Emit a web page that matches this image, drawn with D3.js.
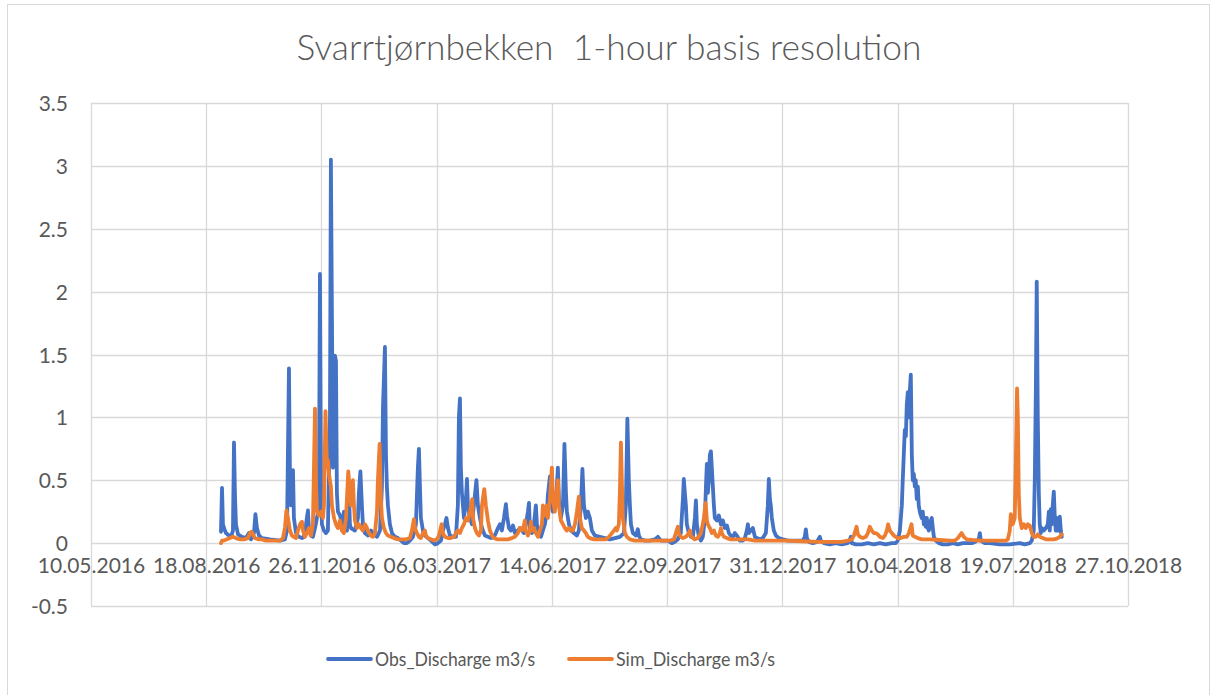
<!DOCTYPE html>
<html>
<head>
<meta charset="utf-8">
<script src="https://cdn.jsdelivr.net/npm/d3@7"></script>
<style>
  html, body { margin: 0; padding: 0; background: #fff; }
  svg { display: block; }
  text { font-family: Lato, "Open Sans", "Noto Sans", sans-serif; fill: #595959; }
</style>
</head>
<body>
<svg id="chart" width="1211" height="695"></svg>
<script>
// Svarrtjørnbekken discharge, observed vs simulated (m3/s)
const chartTitle = "Svarrtjørnbekken  1-hour basis resolution";
const recordStart = "10.05.2016";          // day 0 of the day columns below
const xTickLabels = ["10.05.2016", "18.08.2016", "26.11.2016", "06.03.2017", "14.06.2017",
                     "22.09.2017", "31.12.2017", "10.04.2018", "19.07.2018", "27.10.2018"];
const yTickValues = [-0.5, 0, 0.5, 1, 1.5, 2, 2.5, 3, 3.5];
const seriesNames = ["Obs_Discharge m3/s", "Sim_Discharge m3/s"];

// Observed discharge: days since record start, value
const obsDay = [112.8,113.7,114.5,115.4,117.1,119.7,121.5,123.2,124.1,124.9,125.8,127.6,131.0,134.5,137.1,138.8,141.4,142.7,144.0,145.8,148.4,155.3,164.0,168.3,170.1,171.8,172.7,173.5,175.3,176.1,177.9,180.5,183.1,184.8,186.6,188.3,189.2,190.9,192.6,194.4,196.1,197.8,198.7,199.6,200.4,202.2,203.9,205.6,207.4,208.2,209.1,210.0,211.7,212.6,213.4,214.3,216.1,217.8,219.5,220.4,222.1,223.9,224.7,225.6,229.1,231.7,232.5,233.8,235.1,236.0,237.7,240.4,243.0,245.6,248.2,250.8,252.5,253.4,255.1,256.0,256.8,257.7,259.4,261.2,263.8,266.4,269.0,271.6,274.2,276.8,279.4,282.0,283.7,284.6,285.5,286.3,288.1,289.8,292.4,295.0,298.5,301.1,303.7,305.4,307.2,308.5,309.8,311.5,314.1,316.7,318.4,319.3,320.2,321.0,321.9,323.7,325.4,326.3,327.1,328.9,330.6,332.3,334.5,335.8,337.5,339.3,341.9,344.5,347.1,349.7,351.4,353.2,354.9,356.6,358.4,360.1,361.0,362.7,364.4,366.2,367.9,370.5,372.2,374.0,375.7,377.4,379.2,380.1,380.9,382.7,384.4,386.1,387.0,388.7,390.5,392.2,393.9,395.7,396.5,398.3,399.1,400.9,402.6,404.3,405.2,406.1,407.8,409.6,410.9,412.2,413.0,414.8,416.5,419.1,421.7,423.4,425.2,426.5,427.8,429.5,431.2,433.0,434.7,437.3,441.7,446.0,450.3,454.7,459.0,462.5,464.2,465.5,466.8,467.7,468.6,470.3,472.9,474.6,475.5,477.2,480.7,485.0,489.4,492.0,494.6,497.2,500.7,504.1,506.7,509.3,511.9,513.7,514.5,515.4,516.3,517.1,518.9,520.6,522.4,524.1,525.0,525.8,527.6,529.3,531.0,532.8,533.7,534.5,535.4,536.2,537.1,538.0,538.8,539.7,540.6,541.4,543.2,544.9,546.7,548.4,550.1,551.9,553.6,555.3,557.1,558.8,560.5,563.1,565.7,567.5,569.2,570.1,570.9,572.7,574.4,576.2,577.9,580.5,583.1,585.7,587.4,588.3,589.2,590.0,590.9,592.6,594.4,597.0,600.4,604.8,609.1,613.5,617.8,619.5,620.4,621.3,623.0,626.5,630.0,632.6,633.4,636.0,641.2,646.4,651.6,656.8,658.6,659.5,660.3,663.8,669.0,674.2,679.4,684.6,689.8,695.0,698.5,700.2,702.0,703.7,704.5,705.4,706.3,707.2,708.0,708.9,709.8,710.6,711.5,712.4,713.2,714.1,715.0,715.8,716.7,717.6,718.4,719.3,720.2,721.0,721.9,722.8,723.7,724.5,725.4,726.3,727.1,728.0,728.9,729.7,730.6,731.5,733.2,735.8,739.3,743.6,748.0,752.3,756.7,761.0,764.4,767.1,770.5,771.4,772.3,775.7,780.1,788.7,797.4,806.1,810.4,814.8,816.5,818.2,819.1,820.0,820.8,821.7,822.6,823.4,824.3,825.2,826.9,828.7,830.4,831.3,832.1,833.0,833.9,834.7,835.6,836.5,837.3,838.2,839.1,839.9,840.8,841.7,842.5];
const obsQ = [0.09,0.44,0.15,0.12,0.08,0.06,0.05,0.10,0.80,0.40,0.15,0.07,0.05,0.04,0.08,0.03,0.08,0.23,0.12,0.06,0.04,0.03,0.02,0.03,0.10,1.39,0.50,0.30,0.58,0.20,0.08,0.05,0.04,0.05,0.15,0.26,0.10,0.06,0.05,0.12,0.20,0.30,2.14,0.50,0.15,0.10,0.08,0.10,1.00,3.05,1.80,0.60,1.49,1.45,0.40,0.25,0.22,0.15,0.25,0.12,0.10,0.40,0.15,0.12,0.10,0.20,0.40,0.57,0.30,0.15,0.08,0.06,0.10,0.07,0.05,0.10,0.45,1.08,1.56,0.70,0.45,0.30,0.15,0.08,0.05,0.04,0.02,0.00,0.00,0.02,0.05,0.15,0.60,0.75,0.45,0.20,0.10,0.06,0.04,0.02,-0.01,0.00,0.02,0.10,0.15,0.20,0.12,0.06,0.05,0.05,0.30,1.00,1.15,0.60,0.40,0.20,0.35,0.51,0.30,0.20,0.15,0.30,0.50,0.30,0.20,0.12,0.06,0.05,0.04,0.05,0.08,0.12,0.15,0.10,0.20,0.31,0.22,0.12,0.10,0.14,0.08,0.10,0.12,0.10,0.08,0.15,0.25,0.32,0.12,0.08,0.15,0.30,0.15,0.07,0.05,0.10,0.15,0.25,0.38,0.53,0.35,0.25,0.30,0.45,0.60,0.35,0.20,0.30,0.79,0.40,0.25,0.15,0.10,0.08,0.06,0.10,0.30,0.59,0.30,0.20,0.25,0.20,0.10,0.06,0.05,0.04,0.03,0.04,0.05,0.08,0.30,0.99,0.50,0.30,0.15,0.08,0.06,0.11,0.06,0.03,0.02,0.02,0.03,0.05,0.02,0.02,0.02,0.00,0.01,0.03,0.08,0.35,0.51,0.40,0.30,0.15,0.08,0.05,0.05,0.20,0.34,0.15,0.05,0.02,0.05,0.20,0.45,0.63,0.40,0.50,0.70,0.73,0.60,0.45,0.30,0.20,0.18,0.22,0.15,0.18,0.12,0.14,0.08,0.06,0.05,0.08,0.06,0.02,0.02,0.04,0.10,0.15,0.08,0.10,0.12,0.05,0.04,0.03,0.04,0.08,0.30,0.51,0.35,0.30,0.20,0.10,0.06,0.04,0.03,0.02,0.02,0.02,0.02,0.05,0.11,0.04,0.01,0.00,0.01,0.05,0.02,0.00,-0.01,0.00,-0.01,0.00,0.03,0.05,0.00,-0.01,-0.01,0.00,-0.01,0.00,-0.01,0.00,0.00,0.02,0.10,0.30,0.50,0.70,0.90,0.85,1.10,1.20,1.00,1.20,1.34,0.70,0.50,0.55,0.45,0.50,0.35,0.45,0.30,0.25,0.22,0.20,0.25,0.15,0.20,0.13,0.20,0.12,0.10,0.12,0.18,0.20,0.12,0.05,0.02,0.00,-0.01,-0.01,0.00,-0.01,0.00,0.00,0.00,0.01,0.03,0.08,0.02,0.00,0.00,-0.01,-0.01,0.00,-0.01,0.00,0.02,0.10,0.50,1.20,2.08,1.00,0.40,0.15,0.08,0.12,0.10,0.12,0.15,0.25,0.10,0.27,0.15,0.30,0.41,0.20,0.10,0.20,0.10,0.15,0.21,0.10,0.05];

// Simulated discharge: days since record start, value
const simDay = [112.8,113.7,115.4,118.0,120.6,123.2,125.8,129.3,132.8,136.2,138.0,139.3,140.6,142.3,144.9,148.4,151.8,155.3,159.7,164.0,166.6,168.3,169.6,170.9,172.7,174.4,176.1,177.9,179.6,181.4,183.1,184.0,185.7,187.4,189.2,190.9,192.6,193.5,194.4,195.2,196.1,197.8,199.6,201.3,202.2,203.5,204.8,205.6,206.5,208.2,209.1,210.9,212.6,214.3,216.1,217.8,219.5,221.3,222.1,223.3,224.7,225.6,227.3,228.2,229.1,230.8,232.5,234.3,236.0,237.7,239.5,241.2,243.0,244.7,246.4,248.2,249.0,250.5,251.6,252.5,254.2,256.0,257.7,260.3,262.9,266.4,269.9,273.3,276.8,278.5,280.3,281.1,282.9,284.6,286.3,288.1,289.8,290.7,292.4,295.0,297.6,300.2,302.0,304.3,305.4,307.2,309.8,312.4,315.0,316.7,318.4,320.2,321.9,323.7,325.4,327.1,328.9,330.9,331.5,333.2,334.9,336.7,338.4,339.3,341.3,342.7,344.5,346.2,348.0,349.7,352.3,354.9,358.4,361.8,365.3,367.9,370.5,372.2,374.0,375.7,376.6,377.4,379.2,380.9,381.8,382.7,384.4,386.1,387.9,389.6,391.3,392.2,393.9,395.7,396.5,398.3,400.0,400.9,402.6,403.5,405.2,406.1,407.8,409.6,411.3,413.0,414.8,416.5,418.2,420.0,421.7,423.4,424.3,426.0,427.8,429.5,431.2,433.0,436.5,439.9,443.4,446.9,449.5,452.1,453.8,455.5,456.4,458.1,459.0,459.9,460.7,461.6,463.4,465.1,467.7,472.0,476.4,485.0,493.7,502.4,505.9,507.6,509.3,510.2,511.9,513.7,516.3,518.9,519.8,520.6,522.4,524.1,526.7,529.3,531.0,531.9,533.4,534.5,535.4,537.1,538.8,540.6,542.3,544.1,545.8,546.7,547.5,549.3,551.9,555.3,559.7,564.9,570.1,576.2,589.2,603.1,617.0,630.8,644.7,651.6,656.8,660.3,662.1,664.4,665.6,667.3,669.9,672.5,674.2,675.9,677.7,679.4,681.1,682.9,684.6,687.2,689.0,690.7,691.8,693.3,695.0,696.8,698.5,700.2,702.8,705.4,708.0,709.8,712.1,713.2,715.0,717.6,721.0,728.0,736.7,745.4,749.7,752.3,755.5,757.5,760.1,764.4,771.4,780.1,788.7,793.9,795.7,797.4,798.3,800.0,801.7,802.6,803.7,804.4,805.2,806.1,807.8,809.6,811.3,813.0,814.8,816.5,818.2,820.0,821.7,823.4,826.0,828.7,832.1,835.6,838.2,840.8,842.5];
const simQ = [0.00,0.02,0.02,0.03,0.04,0.05,0.04,0.03,0.03,0.04,0.08,0.09,0.07,0.04,0.03,0.03,0.02,0.02,0.02,0.02,0.04,0.12,0.26,0.20,0.10,0.06,0.05,0.04,0.10,0.15,0.17,0.10,0.05,0.08,0.12,0.06,0.15,0.60,1.07,0.50,0.25,0.22,0.25,0.20,0.30,1.05,0.60,0.66,0.55,0.45,0.30,0.20,0.15,0.12,0.18,0.10,0.08,0.20,0.35,0.57,0.40,0.30,0.50,0.30,0.18,0.12,0.15,0.12,0.10,0.15,0.12,0.08,0.06,0.05,0.08,0.25,0.50,0.79,0.35,0.20,0.12,0.08,0.06,0.05,0.04,0.03,0.03,0.03,0.04,0.10,0.19,0.12,0.08,0.05,0.04,0.08,0.10,0.06,0.04,0.03,0.02,0.03,0.06,0.15,0.08,0.05,0.04,0.04,0.05,0.08,0.10,0.08,0.12,0.15,0.20,0.18,0.25,0.35,0.20,0.12,0.08,0.06,0.10,0.30,0.43,0.30,0.18,0.10,0.06,0.04,0.03,0.03,0.03,0.03,0.04,0.05,0.08,0.12,0.10,0.14,0.18,0.10,0.06,0.10,0.17,0.10,0.12,0.08,0.05,0.10,0.15,0.30,0.22,0.30,0.20,0.35,0.60,0.35,0.25,0.35,0.50,0.30,0.18,0.15,0.12,0.10,0.12,0.10,0.10,0.15,0.25,0.37,0.20,0.12,0.10,0.08,0.05,0.04,0.03,0.03,0.03,0.03,0.05,0.08,0.10,0.12,0.10,0.15,0.40,0.80,0.50,0.20,0.08,0.05,0.03,0.02,0.02,0.02,0.02,0.02,0.03,0.08,0.13,0.08,0.05,0.04,0.05,0.08,0.10,0.06,0.04,0.03,0.04,0.08,0.15,0.20,0.32,0.18,0.15,0.12,0.08,0.10,0.06,0.05,0.08,0.12,0.08,0.05,0.04,0.03,0.03,0.03,0.03,0.02,0.02,0.02,0.015,0.01,0.01,0.01,0.02,0.03,0.06,0.13,0.07,0.05,0.04,0.05,0.08,0.13,0.10,0.08,0.08,0.07,0.05,0.04,0.06,0.10,0.15,0.10,0.08,0.06,0.05,0.04,0.04,0.05,0.05,0.08,0.15,0.06,0.05,0.04,0.03,0.03,0.025,0.02,0.02,0.04,0.08,0.05,0.03,0.025,0.02,0.02,0.02,0.02,0.03,0.10,0.23,0.15,0.20,0.60,1.23,1.00,0.40,0.20,0.12,0.15,0.12,0.15,0.14,0.08,0.05,0.05,0.07,0.05,0.04,0.03,0.03,0.03,0.035,0.05,0.07];

const seriesColors = ["#4472C4", "#ED7D31"];

const svg = d3.select("#chart");
const plot = { left: 91, right: 1128, top: 103, bottom: 606 };

// chart frame
svg.append("rect")
  .attr("x", 7.5).attr("y", 4.5).attr("width", 1202).attr("height", 700)
  .attr("fill", "#fff").attr("stroke", "#d9d9d9").attr("stroke-width", 1);

const parseDMY = d3.utcParse("%d.%m.%Y");
const t0 = parseDMY(recordStart).getTime();
const dayToDate = d => new Date(t0 + d * 864e5);
const tickDates = xTickLabels.map(parseDMY);

const x = d3.scaleUtc()
  .domain([tickDates[0], tickDates[tickDates.length - 1]])
  .range([plot.left, plot.right]);
const y = d3.scaleLinear()
  .domain([d3.min(yTickValues), d3.max(yTickValues)])
  .range([plot.bottom, plot.top]);

// horizontal gridlines
svg.append("g").selectAll("line").data(yTickValues).join("line")
  .attr("x1", plot.left).attr("x2", plot.right)
  .attr("y1", d => Math.round(y(d)) + 0.5).attr("y2", d => Math.round(y(d)) + 0.5)
  .attr("stroke", "#d9d9d9").attr("stroke-width", 1.3);

// vertical gridlines
svg.append("g").selectAll("line").data(tickDates).join("line")
  .attr("x1", d => Math.round(x(d)) + 0.5).attr("x2", d => Math.round(x(d)) + 0.5)
  .attr("y1", plot.top).attr("y2", plot.bottom)
  .attr("stroke", "#d9d9d9").attr("stroke-width", 1.3);

// y axis labels
const yAxis = d3.axisLeft(y).tickValues(yTickValues).tickSize(0).tickPadding(0)
  .tickFormat(d => String(d));
svg.append("g").attr("transform", `translate(${plot.left - 23},0)`).call(yAxis)
  .call(g => g.select(".domain").remove())
  .call(g => g.selectAll("text").attr("font-size", 21).attr("fill", "#595959")
    .attr("font-family", "Lato, sans-serif").attr("dy", "0.36em"));

// x axis labels, sitting below the zero line
const xAxis = d3.axisBottom(x).tickValues(tickDates).tickSize(0).tickPadding(0)
  .tickFormat((d, i) => xTickLabels[i]);
svg.append("g").attr("transform", `translate(0,${y(0) + 15})`).call(xAxis)
  .call(g => g.select(".domain").remove())
  .call(g => g.selectAll("text").attr("font-size", 21).attr("fill", "#595959")
    .attr("font-family", "Lato, sans-serif").attr("dy", "0.71em"));

// series
const line = d3.line()
  .x(d => x(dayToDate(d[0])))
  .y(d => y(d[1]));
const series = [d3.zip(obsDay, obsQ), d3.zip(simDay, simQ)];
svg.append("g").selectAll("path").data(series).join("path")
  .attr("d", line)
  .attr("fill", "none")
  .attr("stroke", (d, i) => seriesColors[i])
  .attr("stroke-width", 3.8)
  .attr("stroke-linejoin", "round")
  .attr("stroke-linecap", "round");

// title
svg.append("text")
  .attr("x", 609).attr("y", 60)
  .attr("text-anchor", "middle")
  .attr("font-size", 35.3)
  .attr("font-weight", 300)
  .style("white-space", "pre")
  .text(chartTitle);

// legend: swatch + label, labels set in a condensed width
const legendX = [328, 569];
const legendTextWidth = [160, 159];
const legend = svg.append("g");
seriesNames.forEach((name, i) => {
  legend.append("line")
    .attr("x1", legendX[i]).attr("x2", legendX[i] + 43)
    .attr("y1", 659).attr("y2", 659)
    .attr("stroke", seriesColors[i]).attr("stroke-width", 3.8)
    .attr("stroke-linecap", "round");
  legend.append("text")
    .attr("x", legendX[i] + 47).attr("y", 659).attr("dy", "0.36em")
    .attr("font-size", 20)
    .attr("textLength", legendTextWidth[i])
    .attr("lengthAdjust", "spacingAndGlyphs")
    .text(name);
});
</script>
</body>
</html>
